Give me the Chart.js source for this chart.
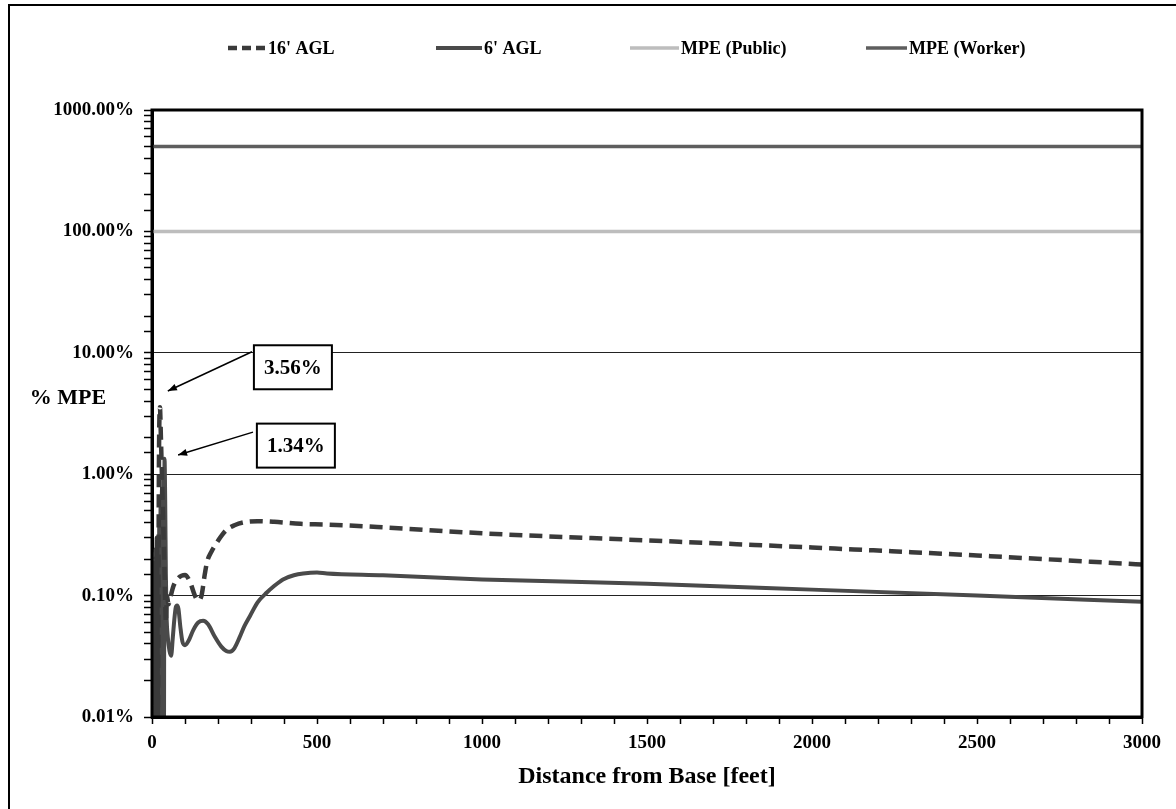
<!DOCTYPE html>
<html>
<head>
<meta charset="utf-8">
<script src="https://cdn.jsdelivr.net/npm/chart.js@4.4.1/dist/chart.umd.min.js"></script>
<style>
html,body{margin:0;padding:0;background:#fff;}
canvas{display:block;}
</style>
</head>
<body>
<canvas id="c" width="1176" height="809"></canvas>
<script>
// ---- DATA ----
const seriesNames = ["16' AGL", "6' AGL", "MPE (Public)", "MPE (Worker)"];

const agl16Dist = [0,3,6,9,12,15,18,21,24,27,30,33,36,39,42,45,50,55,65,80,100,115,130,140,150,160,167,180,197,212,227,250,276,320,370,450,530,700,1000,1500,2000,2500,3000];
const agl16Val  = [0.003,0.12,0.004,0.2,0.006,0.3,0.01,1.2,3.56,2.0,1.0,0.5,0.25,0.12,0.06,0.1,0.085,0.095,0.12,0.14,0.148,0.13,0.1,0.091,0.1,0.15,0.19,0.23,0.275,0.315,0.35,0.38,0.40,0.41,0.405,0.39,0.385,0.365,0.326,0.285,0.249,0.214,0.18];

const agl6Dist = [0,2,4,6,8,10,12,14,16,18,20,22,24,26,28,30,32,34,36,38,40,42,44,48,53,58,63,68,72,76,80,86,92,100,110,125,140,155,170,190,210,225,236,250,265,280,297,320,348,370,397,430,458,500,530,700,1000,1500,2000,2500,3000];
const agl6Val  = [0.002,0.2,0.003,0.22,0.004,0.24,0.005,0.25,0.004,0.3,0.005,0.4,0.004,0.55,0.005,0.75,0.004,1.0,0.005,1.34,0.6,0.15,0.07,0.045,0.035,0.032,0.045,0.065,0.08,0.083,0.078,0.055,0.042,0.039,0.042,0.052,0.06,0.062,0.058,0.046,0.038,0.035,0.0345,0.037,0.045,0.056,0.068,0.088,0.106,0.12,0.136,0.147,0.152,0.155,0.152,0.147,0.136,0.125,0.112,0.1,0.089];

const mpeDist = [0, 3000];
const mpePublic = [100, 100];
const mpeWorker = [500, 500];

const yTickValues = [0.01, 0.1, 1, 10, 100, 1000];
const xTickValues = [0, 500, 1000, 1500, 2000, 2500, 3000];

const annotations = [
  {label: '3.56%', boxX: 427, boxY: 7.6, fromX: 303, fromY: 10.2, toX: 48, toY: 4.85},
  {label: '1.34%', boxX: 436, boxY: 1.72, fromX: 306, fromY: 2.22, toX: 79, toY: 1.44}
];

// ---- helpers ----
const pts = (xs, ys) => xs.map((x, i) => ({x: x, y: ys[i]}));
const isPow10 = v => yTickValues.some(t => Math.abs(v - t) / t < 1e-6);
const FONT = "'Liberation Serif', 'Times New Roman', serif";

const bgPlugin = {
  id: 'bg',
  beforeDraw(chart) {
    const c = chart.ctx;
    c.save();
    c.fillStyle = '#fff';
    c.fillRect(0, 0, chart.width, chart.height);
    c.strokeStyle = '#000';
    c.lineWidth = 2;
    c.beginPath();
    c.moveTo(9, chart.height + 2);
    c.lineTo(9, 5);
    c.lineTo(chart.width + 2, 5);
    c.stroke();
    c.restore();
  }
};

const framePlugin = {
  id: 'frame',
  afterDatasetsDraw(chart) {
    const a = chart.chartArea, c = chart.ctx;
    c.save();
    c.strokeStyle = '#000';
    c.lineWidth = 3;
    c.strokeRect(a.left, a.top, a.right - a.left, a.bottom - a.top);
    c.restore();
  }
};

const customLegend = {
  id: 'customLegend',
  afterDraw(chart, args, opts) {
    const c = chart.ctx;
    c.save();
    c.font = 'bold 18px ' + FONT;
    c.textBaseline = 'middle';
    c.fillStyle = '#000';
    opts.items.forEach((it, i) => {
      const ds = chart.data.datasets[i];
      c.strokeStyle = ds.borderColor;
      c.lineWidth = ds.borderWidth;
      c.setLineDash(ds.borderDash ? [9, 5] : []);
      c.beginPath();
      c.moveTo(it.x, opts.y);
      c.lineTo(it.x + it.w, opts.y);
      c.stroke();
      c.setLineDash([]);
      c.fillText(ds.label, it.x + it.w + 2, opts.y + 1);
    });
    c.restore();
  }
};

const yTitlePlugin = {
  id: 'yTitle',
  afterDraw(chart) {
    const c = chart.ctx;
    c.save();
    c.font = 'bold 22px ' + FONT;
    c.fillStyle = '#000';
    c.textAlign = 'center';
    c.textBaseline = 'middle';
    const y = chart.scales.y.getPixelForValue(4.2);
    c.fillText('% MPE', 68, y);
    c.restore();
  }
};

const annotPlugin = {
  id: 'annot',
  afterDraw(chart) {
    const c = chart.ctx, xs = chart.scales.x, ys = chart.scales.y;
    c.save();
    annotations.forEach(a => {
      const fx = xs.getPixelForValue(a.fromX), fy = ys.getPixelForValue(a.fromY);
      const tx = xs.getPixelForValue(a.toX), ty = ys.getPixelForValue(a.toY);
      c.strokeStyle = '#000';
      c.fillStyle = '#000';
      c.lineWidth = 1.5;
      c.beginPath(); c.moveTo(fx, fy); c.lineTo(tx, ty); c.stroke();
      const ang = Math.atan2(ty - fy, tx - fx);
      const L = 9, W = 3.5;
      c.beginPath();
      c.moveTo(tx, ty);
      c.lineTo(tx - L * Math.cos(ang) + W * Math.sin(ang), ty - L * Math.sin(ang) - W * Math.cos(ang));
      c.lineTo(tx - L * Math.cos(ang) - W * Math.sin(ang), ty - L * Math.sin(ang) + W * Math.cos(ang));
      c.closePath(); c.fill();
      const bx = xs.getPixelForValue(a.boxX), by = ys.getPixelForValue(a.boxY);
      const bw = 78, bh = 44;
      c.fillStyle = '#fff';
      c.fillRect(bx - bw / 2, by - bh / 2, bw, bh);
      c.lineWidth = 2;
      c.strokeRect(bx - bw / 2, by - bh / 2, bw, bh);
      c.fillStyle = '#000';
      c.font = 'bold 21px ' + FONT;
      c.textAlign = 'center';
      c.textBaseline = 'middle';
      c.fillText(a.label, bx, by + 1);
    });
    c.restore();
  }
};

new Chart(document.getElementById('c'), {
  type: 'line',
  data: {
    datasets: [
      {label: seriesNames[0], data: pts(agl16Dist, agl16Val), borderColor: '#3a3a3a', borderWidth: 4.5, borderDash: [13, 7], pointRadius: 0, cubicInterpolationMode: 'monotone', fill: false},
      {label: seriesNames[1], data: pts(agl6Dist, agl6Val), borderColor: '#4a4a4a', borderWidth: 4, pointRadius: 0, cubicInterpolationMode: 'monotone', fill: false},
      {label: seriesNames[2], data: pts(mpeDist, mpePublic), borderColor: '#bdbdbd', borderWidth: 3.5, pointRadius: 0, fill: false},
      {label: seriesNames[3], data: pts(mpeDist, mpeWorker), borderColor: '#5e5e5e', borderWidth: 3.5, pointRadius: 0, fill: false}
    ]
  },
  options: {
    responsive: false,
    animation: false,
    layout: {padding: {top: 110, right: 34, left: 0, bottom: 0}},
    plugins: {
      legend: {display: false},
      tooltip: {enabled: false},
      customLegend: {
        y: 48,
        items: [{x: 228, w: 38}, {x: 436, w: 46}, {x: 630, w: 49}, {x: 866, w: 41}]
      }
    },
    scales: {
      x: {
        type: 'linear',
        min: 0, max: 3000,
        afterFit(s) { s.height = 92; },
        ticks: {
          stepSize: 100, autoSkip: false, maxRotation: 0, color: '#000', padding: 8,
          font: {family: FONT, weight: 'bold', size: 19},
          callback: v => xTickValues.includes(v) ? String(v) : ''
        },
        grid: {drawOnChartArea: false, tickLength: 7, tickColor: '#000', tickWidth: 1.5},
        border: {color: '#000', width: 3},
        title: {display: true, text: 'Distance from Base [feet]', color: '#000',
          font: {family: FONT, weight: 'bold', size: 24}, padding: {top: 4, bottom: 18}}
      },
      y: {
        type: 'logarithmic',
        min: 0.01, max: 1000,
        afterFit(s) { s.width = 152; },
        ticks: {
          autoSkip: false, color: '#000', padding: 10,
          font: {family: FONT, weight: 'bold', size: 19},
          callback: v => isPow10(v) ? v.toFixed(2) + '%' : ''
        },
        grid: {
          color: ctx => (ctx.tick && isPow10(ctx.tick.value)) ? '#222' : 'rgba(0,0,0,0)',
          lineWidth: 1,
          tickLength: 8, tickColor: '#000', tickWidth: 1.5
        },
        border: {color: '#000', width: 3}
      }
    }
  },
  plugins: [bgPlugin, framePlugin, customLegend, yTitlePlugin, annotPlugin]
});
</script>
</body>
</html>
